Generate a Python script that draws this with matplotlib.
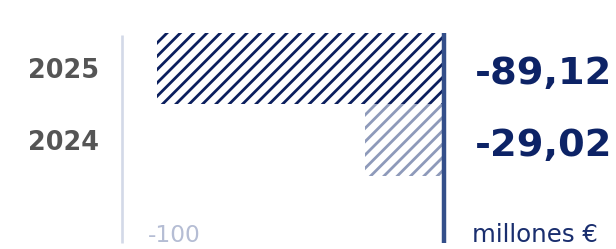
import matplotlib.pyplot as plt
from matplotlib.transforms import blended_transform_factory

# -------------------------
# Data
# -------------------------
years = ["2025", "2024"]
bar_values = [-89.12, -24.5]          # bar lengths as drawn
value_labels = ["-89,12", "-29,02"]   # printed values
hatch_colors = ["#0b1f5e", "#8e9aba"]
x_min = -100
unit_label = "millones €"

W, H, DPI = 616, 249, 80
plt.rcParams["hatch.linewidth"] = 2.5

fig = plt.figure(figsize=(W / DPI, H / DPI), dpi=DPI)

# axes span from the -100 gridline to the zero line
ax_left, ax_right = 121.5 / W, 444 / W
ax_top, ax_bottom = 1 - 33 / H, 1 - 243 / H
ax = fig.add_axes([ax_left, ax_bottom, ax_right - ax_left, ax_top - ax_bottom])

ypos = list(range(len(years)))
for y, v, c in zip(ypos, bar_values, hatch_colors):
    ax.barh(y, v, height=1.0, color="white", edgecolor=c, hatch="//", linewidth=0)

ax.set_xlim(x_min, 0)
ax.set_ylim(2.44, -0.5)
ax.axvline(x_min, color="#d3d9e8", lw=2.4, ymax=0.99, clip_on=False,
           solid_capstyle="butt")
ax.axvline(0, color="#344f8a", lw=4.0, clip_on=False, solid_capstyle="butt")
ax.axis("off")

# year labels and values, x in figure coords, y in data coords
tr = blended_transform_factory(fig.transFigure, ax.transData)
for y, yr, lab in zip(ypos, years, value_labels):
    ax.text(99 / W, y + 0.135, yr, transform=tr, ha="right", va="baseline",
            fontsize=23, fontweight="bold", color="#555555")
    ax.text(475 / W, y + 0.217, lab, transform=tr, ha="left", va="baseline",
            fontsize=34.5, fontweight="bold", color="#0d2366")

fig.text(148 / W, 1 - 242 / H, str(x_min), ha="left", va="baseline",
         fontsize=21, color="#b5bdd4")
fig.text(472 / W, 1 - 242 / H, unit_label, ha="left", va="baseline",
         fontsize=22, color="#1a2e6e")

fig.savefig("out.png", dpi=DPI)
